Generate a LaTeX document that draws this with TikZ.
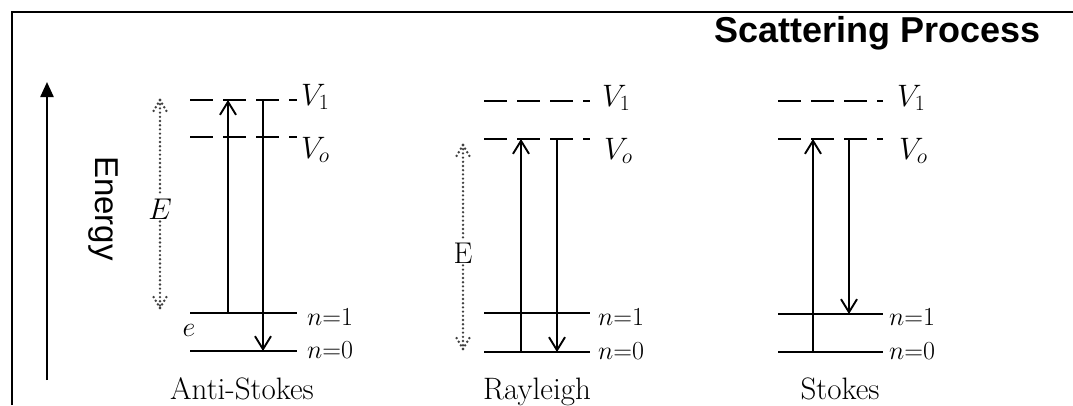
\RequirePackage{fix-cm}
\documentclass[tikz,border=0pt]{standalone}
\usepackage{fontspec}
\newfontfamily\sanf{Liberation Sans}
\usetikzlibrary{arrows.meta}
\tikzset{
  level/.style={line width=2.8pt},
  vlevel/.style={line width=2.8pt, dash pattern=on 23pt off 10pt},
  trans/.style={line width=1.9pt, -{Straight Barb[length=13pt,width=16pt,line width=1.9pt]}},
  dotline/.style={black!75, line width=2.6pt, dash pattern=on 0pt off 4.2pt, line cap=round},
  vlab/.style={font=\fontsize{31}{33}\selectfont, anchor=base west, inner sep=0pt},
  nlab/.style={font=\fontsize{26}{28}\selectfont, anchor=base west, inner sep=0pt},
  proc/.style={font=\fontsize{31}{33}\selectfont, anchor=base, inner sep=0pt},
  elab/.style={font=\fontsize{30}{32}\selectfont, fill=white, inner sep=2pt},
}
\begin{document}
\begin{tikzpicture}[x=1pt,y=-1pt]
\useasboundingbox (0,0) rectangle (1073,405);
% frame
\draw[line width=2pt] (11.5,405) -- (11.5,11.5) -- (1073,11.5);
% title
\node[anchor=base west, inner sep=0pt, font=\sanf\bfseries\fontsize{36}{40}\selectfont] (title) at (714,42) {Scattering Process};
% energy axis
\coordinate (en0) at (47,380);
\coordinate (en1) at (47,82);
\draw[line width=2.4pt, -{Triangle[length=15pt,width=13pt]}] (en0) -- (en1);
\node[rotate=-90, font=\sanf\fontsize{33}{35}\selectfont, inner sep=0pt] (energy) at (103.5,208.5) {Energy};

% ===== Anti-Stokes =====
\draw[vlevel] (190,100) -- (297,100);
\draw[vlevel] (190,137) -- (297,137);
\draw[level] (190,313) -- (297,313);
\draw[level] (190,351) -- (297,351);
\node[vlab] (aV1) at (301,105) {$V_1$};
\node[vlab] (aV0) at (301,158) {$V_o$};
\node[nlab] (an1) at (307,325) {$n{=}1$};
\node[nlab] (an0) at (307,358) {$n{=}0$};
\node[font=\fontsize{28}{30}\selectfont, inner sep=0pt] (ae) at (189,330) {$e$};
\coordinate (aUpS) at (228,313);
\coordinate (aUpE) at (228,100);
\coordinate (aDnS) at (263,100);
\coordinate (aDnE) at (263,351);
\draw[trans] (aUpS) -- (aUpE);
\draw[trans] (aDnS) -- (aDnE);
\node[elab] (aE) at (160,209) {$E$};
\coordinate (adT) at (160,100);
\coordinate (adB) at (160,308);
\draw[dotline] (adT) -- (aE);
\draw[dotline] (aE) -- (adB);
\draw[dotline] (adT) -- ++(-7,12);
\draw[dotline] (adT) -- ++(7,12);
\draw[dotline] (adB) -- ++(-7,-12);
\draw[dotline] (adB) -- ++(7,-12);
\node[proc] (anti) at (242,399) {Anti-Stokes};

% ===== Rayleigh =====
\draw[vlevel] (484,101) -- (590,101);
\draw[vlevel] (484,139) -- (590,139);
\draw[level] (484,313) -- (590,313);
\draw[level] (484,352) -- (590,352);
\node[vlab] (rV1) at (602,106) {$V_1$};
\node[vlab] (rV0) at (604,159) {$V_o$};
\node[nlab] (rn1) at (598,325) {$n{=}1$};
\node[nlab] (rn0) at (598,359) {$n{=}0$};
\coordinate (rUpS) at (521,352);
\coordinate (rUpE) at (521,139);
\coordinate (rDnS) at (557,139);
\coordinate (rDnE) at (557,352);
\draw[trans] (rUpS) -- (rUpE);
\draw[trans] (rDnS) -- (rDnE);
\node[elab] (rE) at (463,253) {E};
\coordinate (rdT) at (463,145);
\coordinate (rdB) at (463,349);
\draw[dotline] (rdT) -- (rE);
\draw[dotline] (rE) -- (rdB);
\draw[dotline] (rdT) -- ++(-7,12);
\draw[dotline] (rdT) -- ++(7,12);
\draw[dotline] (rdB) -- ++(-7,-12);
\draw[dotline] (rdB) -- ++(7,-12);
\node[proc] (ray) at (537,399) {Rayleigh};

% ===== Stokes =====
\draw[vlevel] (778,101) -- (883,101);
\draw[vlevel] (778,139) -- (883,139);
\draw[line width=2pt] (778,314) -- (883,314);
\draw[level] (778,352) -- (883,352);
\node[vlab] (sV1) at (897,106) {$V_1$};
\node[vlab] (sV0) at (899,159) {$V_o$};
\node[nlab] (sn1) at (889,325) {$n{=}1$};
\node[nlab] (sn0) at (889,359) {$n{=}0$};
\coordinate (sUpS) at (813,352);
\coordinate (sUpE) at (813,139);
\coordinate (sDnS) at (849,139);
\coordinate (sDnE) at (849,314);
\draw[trans] (sUpS) -- (sUpE);
\draw[trans] (sDnS) -- (sDnE);
\node[proc] (sto) at (840,399) {Stokes};
\end{tikzpicture}
\end{document}
